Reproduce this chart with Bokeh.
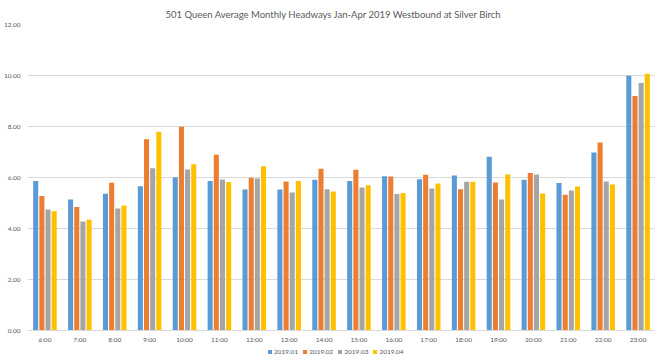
from bokeh.plotting import figure
from bokeh.layouts import column
from bokeh.models import (FactorRange, Legend, LegendItem, FixedTicker,
                          NumeralTickFormatter, Range1d, ColumnDataSource)
from bokeh.transform import dodge
from bokeh.embed import file_html
from bokeh.resources import INLINE

hours = ["6:00", "7:00", "8:00", "9:00", "10:00", "11:00", "12:00", "13:00",
         "14:00", "15:00", "16:00", "17:00", "18:00", "19:00", "20:00",
         "21:00", "22:00", "23:00"]
m2019_01 = [5.86, 5.14, 5.36, 5.66, 6.01, 5.86, 5.53, 5.53, 5.91, 5.86,
            6.05, 5.93, 6.08, 6.81, 5.91, 5.78, 6.98, 9.99]
m2019_02 = [5.27, 4.84, 5.79, 7.50, 7.99, 6.89, 5.99, 5.84, 6.34, 6.30,
            6.04, 6.11, 5.54, 5.80, 6.18, 5.32, 7.37, 9.20]
m2019_03 = [4.75, 4.27, 4.78, 6.36, 6.31, 5.92, 5.96, 5.41, 5.54, 5.61,
            5.35, 5.57, 5.83, 5.14, 6.12, 5.49, 5.84, 9.71]
m2019_04 = [4.68, 4.34, 4.90, 7.79, 6.52, 5.82, 6.44, 5.86, 5.45, 5.70,
            5.39, 5.76, 5.83, 6.12, 5.37, 5.65, 5.73, 10.07]
series_names = ["2019.01", "2019.02", "2019.03", "2019.04"]
colors = ["#5B9BD5", "#ED7D31", "#A5A5A5", "#FFC000"]
y_ticks = [0, 2, 4, 6, 8, 10, 12]

FONT = "Lato"
TXT = "#595959"

source = ColumnDataSource(dict(hour=hours, s1=m2019_01, s2=m2019_02,
                               s3=m2019_03, s4=m2019_04))

p = figure(width=655, height=345, output_backend="svg", toolbar_location=None,
           x_range=FactorRange(factors=hours, range_padding=0),
           y_range=Range1d(0, 12),
           min_border_left=25, min_border_right=0, min_border_top=24,
           min_border_bottom=14)

p.title.text = "501 Queen Average Monthly Headways Jan-Apr 2019 Westbound at Silver Birch"
p.title.align = "left"
p.title.text_font = FONT
p.title.text_font_size = "9.5px"
p.title.text_font_style = "normal"
p.title.text_color = TXT
p.title.offset = 138
p.title.standoff = 10

offsets = [-0.265, -0.088, 0.088, 0.265]
for col, off, c in zip(["s1", "s2", "s3", "s4"], offsets, colors):
    p.vbar(x=dodge("hour", off, range=p.x_range), top=col, width=0.145,
           bottom=0, source=source, fill_color=c, line_color=None)

p.outline_line_color = None
p.background_fill_color = "white"
p.border_fill_color = "white"

p.yaxis.ticker = FixedTicker(ticks=y_ticks)
p.yaxis.formatter = NumeralTickFormatter(format="0.00")
p.yaxis.axis_line_color = None
p.yaxis.major_tick_line_color = None
p.yaxis.minor_tick_line_color = None
p.yaxis.major_tick_out = 0
p.yaxis.minor_tick_out = 0
p.yaxis.major_label_text_font = FONT
p.yaxis.major_label_text_font_size = "6.5px"
p.yaxis.major_label_text_color = TXT
p.yaxis.major_label_standoff = 7

p.xaxis.axis_line_color = "#D9D9D9"
p.xaxis.major_tick_line_color = None
p.xaxis.minor_tick_line_color = None
p.xaxis.major_tick_out = 0
p.xaxis.minor_tick_out = 0
p.xaxis.major_label_text_font = FONT
p.xaxis.major_label_text_font_size = "6.5px"
p.xaxis.major_label_text_color = TXT
p.xaxis.major_label_standoff = 5

p.xgrid.grid_line_color = None
p.ygrid.grid_line_color = "#D9D9D9"
p.ygrid.grid_line_width = 1

# legend strip under the chart (swatch renderers sit outside its visible range)
lg = figure(width=655, height=15, output_backend="svg", toolbar_location=None,
            x_range=Range1d(0, 1), y_range=Range1d(0, 1),
            x_axis_type=None, y_axis_type=None,
            min_border_left=0, min_border_right=0, min_border_top=0,
            min_border_bottom=0)
lg.outline_line_color = None
lg.xgrid.visible = False
lg.ygrid.visible = False
items = []
for n, c in zip(series_names, colors):
    r = lg.vbar(x=[5], top=[5], bottom=[4], width=0.1, fill_color=c,
                line_color=None)
    items.append(LegendItem(label=n, renderers=[r]))
legend = Legend(items=items, orientation="horizontal", location=(240, 5),
                label_text_font=FONT, label_text_font_size="6.5px",
                label_text_color=TXT, glyph_width=5, glyph_height=5,
                label_standoff=2, spacing=4, padding=0, margin=0,
                label_height=8, border_line_color=None,
                background_fill_alpha=0)
lg.add_layout(legend, "center")

layout = column(p, lg, spacing=0)
open("out.html", "w").write(file_html(layout, INLINE))
